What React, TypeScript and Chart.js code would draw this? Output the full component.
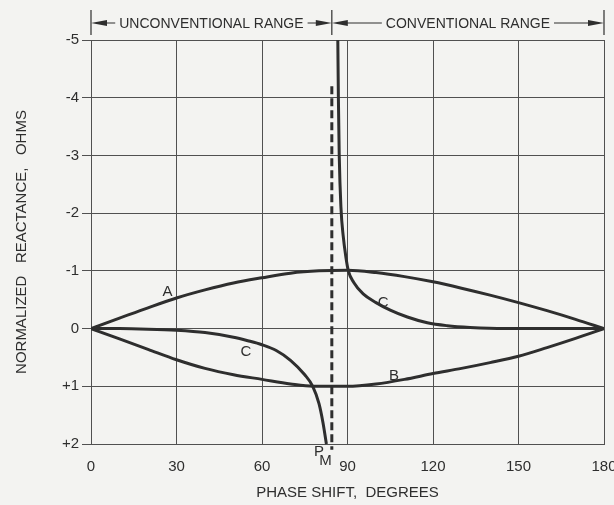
import { useEffect, useRef } from 'react';
import { Chart, registerables } from 'chart.js';

Chart.register(...registerables);

// ---- data ----
const phaseA = [0, 10, 20, 30, 40, 50, 60, 70, 80, 90, 100, 110, 120, 130, 140, 150, 160, 170, 180];
const reactA = [0, -0.18, -0.36, -0.53, -0.67, -0.79, -0.88, -0.96, -1.0, -1.01, -0.97, -0.9, -0.81, -0.7, -0.58, -0.45, -0.31, -0.16, 0];

const phaseB = [0, 10, 20, 30, 40, 50, 60, 70, 78, 90, 100, 110, 120, 130, 140, 150, 160, 170, 180];
const reactB = [0, 0.18, 0.36, 0.54, 0.69, 0.8, 0.88, 0.96, 1.0, 1.0, 0.96, 0.88, 0.78, 0.69, 0.59, 0.48, 0.33, 0.17, 0];

const phaseC1 = [0, 10, 20, 30, 40, 50, 55, 60, 65, 70, 75, 77.8, 80, 81.4, 82.6];
const reactC1 = [0, 0, 0.01, 0.03, 0.07, 0.15, 0.21, 0.28, 0.38, 0.55, 0.8, 1.0, 1.3, 1.63, 2.0];

const phaseC2 = [86.6, 86.8, 87.1, 87.7, 88.5, 89.4, 90.3, 92.2, 95.5, 100, 105, 111, 118, 125, 133, 145, 180];
const reactC2 = [-5, -4, -3, -2.1, -1.6, -1.25, -1.0, -0.8, -0.6, -0.45, -0.32, -0.2, -0.1, -0.05, -0.02, 0, 0];

const phaseDashed = [84.5, 84.5];
const reactDashed = [-4.2, 2.1];

const yTickValues = [-5, -4, -3, -2, -1, 0, 1, 2];
const yTickLabels = ['-5', '-4', '-3', '-2', '-1', '0', '+1', '+2'];

const curveLabelText = ['A', 'C', 'C', 'B', 'P', 'M'];
const curveLabelX = [26.8, 54.4, 102.5, 106.3, 80, 82.3];
const curveLabelY = [-0.63, 0.4, -0.44, 0.82, 2.13, 2.29];

const rangeBoundaries = [0, 84.5, 180];
const rangeNames = ['UNCONVENTIONAL RANGE', 'CONVENTIONAL RANGE'];

const xTitle = 'PHASE SHIFT,  DEGREES';
const yTitle = 'NORMALIZED   REACTANCE,   OHMS';

// ---- styles ----
const BG = '#f3f3f1';
const INK = '#2e2e2e';
const GRID = '#505050';
const FONT = 'Liberation Sans';

const headerPlugin = {
  id: 'rangeHeader',
  afterDraw(chart: any) {
    const ctx = chart.ctx;
    const xs = chart.scales.x;
    const px = rangeBoundaries.map((v) => xs.getPixelForValue(v));
    const yTop = 10;
    const yBot = 35;
    const yLine = 23;
    ctx.save();
    ctx.strokeStyle = INK;
    ctx.fillStyle = INK;
    ctx.lineWidth = 1.2;
    px.forEach((x) => {
      ctx.beginPath();
      ctx.moveTo(x, yTop);
      ctx.lineTo(x, yBot);
      ctx.stroke();
    });
    ctx.font = `14px "${FONT}"`;
    ctx.textAlign = 'center';
    ctx.textBaseline = 'middle';
    const arrow = (tip: number, dir: number) => {
      ctx.beginPath();
      ctx.moveTo(tip, yLine);
      ctx.lineTo(tip + dir * 16, yLine - 3);
      ctx.lineTo(tip + dir * 16, yLine + 3);
      ctx.closePath();
      ctx.fill();
    };
    for (let i = 0; i < rangeNames.length; i++) {
      const a = px[i];
      const b = px[i + 1];
      const mid = (a + b) / 2;
      const w = ctx.measureText(rangeNames[i]).width;
      ctx.fillText(rangeNames[i], mid, yLine + 1);
      arrow(a, 1);
      arrow(b, -1);
      ctx.beginPath();
      ctx.moveTo(a + 14, yLine);
      ctx.lineTo(mid - w / 2 - 4, yLine);
      ctx.moveTo(mid + w / 2 + 4, yLine);
      ctx.lineTo(b - 14, yLine);
      ctx.stroke();
    }
    ctx.restore();
  },
};

const labelPlugin = {
  id: 'curveLabels',
  afterDatasetsDraw(chart: any) {
    const ctx = chart.ctx;
    const xs = chart.scales.x;
    const ys = chart.scales.y;
    ctx.save();
    ctx.fillStyle = INK;
    ctx.font = `15px "${FONT}"`;
    ctx.textAlign = 'center';
    ctx.textBaseline = 'middle';
    curveLabelText.forEach((t, i) => {
      ctx.fillText(t, xs.getPixelForValue(curveLabelX[i]), ys.getPixelForValue(curveLabelY[i]));
    });
    ctx.restore();
  },
};

export default function App() {
  const ref = useRef<HTMLCanvasElement>(null);
  useEffect(() => {
    document.body.style.margin = '0';
    document.body.style.background = BG;
    const canvas = ref.current;
    if (!canvas) return;
    const mk = (xs: number[], ys: number[]) => xs.map((x, i) => ({ x, y: ys[i] }));
    const lineDs = (label: string, xs: number[], ys: number[], extra: any = {}) => ({
      label,
      data: mk(xs, ys),
      borderColor: INK,
      borderWidth: 3,
      pointRadius: 0,
      cubicInterpolationMode: 'monotone',
      fill: false,
      ...extra,
    });
    const chart = new Chart(canvas, {
      type: 'line',
      data: {
        datasets: [
          lineDs('A', phaseA, reactA),
          lineDs('B', phaseB, reactB),
          lineDs('C', phaseC1, reactC1, { clip: false }),
          lineDs('C', phaseC2, reactC2),
          lineDs('limit', phaseDashed, reactDashed, {
            borderDash: [8, 4],
            cubicInterpolationMode: 'default',
            tension: 0,
            clip: false,
            borderWidth: 3,
          }),
        ],
      },
      options: {
        animation: false,
        responsive: true,
        maintainAspectRatio: false,
        layout: { padding: { top: 40, right: 10, left: 0, bottom: 0 } },
        plugins: { legend: { display: false }, tooltip: { enabled: false } },
        scales: {
          x: {
            type: 'linear',
            min: 0,
            max: 180,
            ticks: { stepSize: 30, color: INK, font: { family: FONT, size: 15 }, padding: 14 },
            grid: { color: GRID, lineWidth: 1, drawTicks: false },
            border: { color: GRID, width: 1 },
            title: {
              display: true,
              text: xTitle,
              color: INK,
              font: { family: FONT, size: 15 },
              padding: { top: 0, bottom: 3 },
            },
            afterFit: (s: any) => {
              s.height = 61;
              s.paddingLeft = 0;
              s.paddingRight = 0;
            },
          },
          y: {
            type: 'linear',
            min: -5,
            max: 2,
            reverse: true,
            ticks: {
              stepSize: 1,
              color: INK,
              font: { family: FONT, size: 15 },
              padding: 3,
              callback: (v: any) => {
                const i = yTickValues.indexOf(Number(v));
                return i >= 0 ? yTickLabels[i] : '';
              },
            },
            grid: { color: GRID, lineWidth: 1, tickLength: 9 },
            border: { color: GRID, width: 1 },
            title: {
              display: true,
              text: yTitle,
              color: INK,
              font: { family: FONT, size: 15 },
              padding: { top: 13, bottom: 0 },
            },
            afterFit: (s: any) => {
              s.width = 91;
              s.paddingTop = 0;
              s.paddingBottom = 0;
            },
          },
        },
      } as any,
      plugins: [headerPlugin, labelPlugin],
    } as any);
    return () => chart.destroy();
  }, []);
  return (
    <div style={{ width: 614, height: 505, position: 'relative' }}>
      <canvas ref={ref} />
    </div>
  );
}
